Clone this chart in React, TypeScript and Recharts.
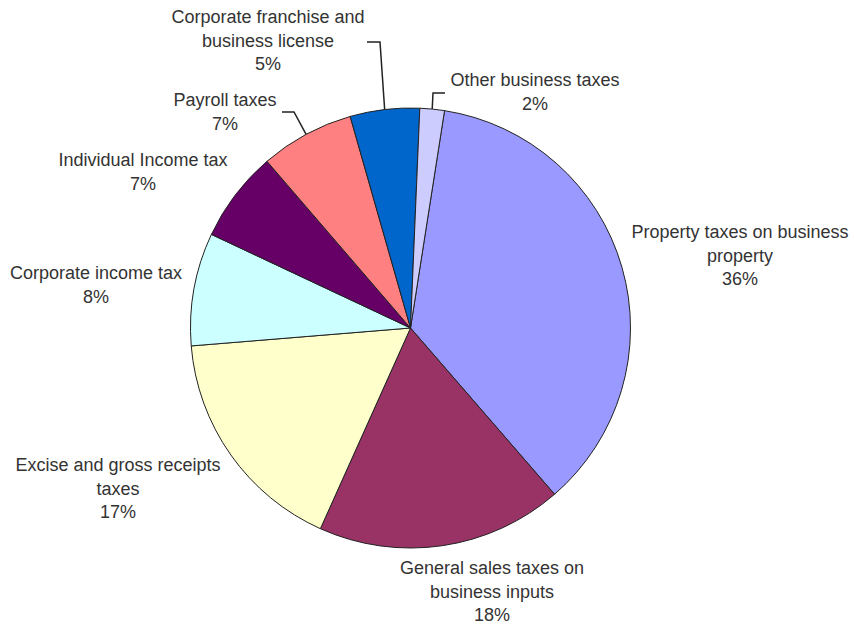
import React from 'react';
import { PieChart, Pie, Cell } from 'recharts';

const categories = [
  'Property taxes on business property',
  'General sales taxes on business inputs',
  'Excise and gross receipts taxes',
  'Corporate income tax',
  'Individual Income tax',
  'Payroll taxes',
  'Corporate franchise and business license',
  'Other business taxes',
];
const shares = [36.2, 18.1, 17.0, 8.3, 6.7, 6.9, 5.1, 1.8];
const labelLines = [
  ['Property taxes on business', 'property'],
  ['General sales taxes on', 'business inputs'],
  ['Excise and gross receipts', 'taxes'],
  ['Corporate income tax'],
  ['Individual Income tax'],
  ['Payroll taxes'],
  ['Corporate franchise and', 'business license'],
  ['Other business taxes'],
];
const colors = ['#9999FF', '#993366', '#FFFFCC', '#CCFFFF', '#660066', '#FF8080', '#0066CC', '#CCCCFF'];

// layout (not data): first-line centre of each label relative to pie centre
const labelOffsets: number[][] = [
  [329.5, -96], [81.5, 240], [-292.5, 137], [-314.5, -55],
  [-267.5, -168], [-185.5, -228], [-142.5, -311], [124.5, -248],
];
// leader line elbow / end offsets relative to pie centre
const leaders: (number[][] | null)[] = [
  null, null, null, null, null,
  [[-116.5, -216], [-128.5, -216]],
  [[-30.5, -286], [-43.5, -286]],
  [[22.5, -235], [34.5, -235]],
];

const data = categories.map((name, i) => ({ name, value: shares[i] }));

const LINE_H = 23.5;
const RAD = Math.PI / 180;

const renderLabel = (props: any) => {
  const { cx, cy, midAngle, outerRadius, index, percent } = props;
  const off = labelOffsets[index];
  const lines = [...labelLines[index], `${Math.round(percent * 100)}%`];
  const lx = cx + off[0];
  const ly = cy + off[1];
  const ld = leaders[index];
  let leader = null;
  if (ld) {
    const ex = cx + outerRadius * Math.cos(-midAngle * RAD);
    const ey = cy + outerRadius * Math.sin(-midAngle * RAD);
    const pts = [[ex, ey], [cx + ld[0][0], cy + ld[0][1]], [cx + ld[1][0], cy + ld[1][1]]]
      .map((p) => p.join(',')).join(' ');
    leader = <polyline points={pts} fill="none" stroke="#222" strokeWidth={1.5} />;
  }
  return (
    <g key={`lab-${index}`}>
      {leader}
      <text
        x={lx}
        y={ly}
        textAnchor="middle"
        fill="#333"
        fontFamily="'Liberation Sans', Arial, sans-serif"
        fontSize={18}
      >
        {lines.map((t, i) => (
          <tspan key={i} x={lx} y={ly + i * LINE_H} dominantBaseline="central">{t}</tspan>
        ))}
      </text>
    </g>
  );
};

export default function App() {
  return (
    <div style={{ position: 'absolute', left: 0, top: 0, background: '#fff' }}>
      <PieChart width={854} height={625} margin={{ top: 0, right: 0, bottom: 0, left: 0 }}>
        <Pie
          data={data}
          dataKey="value"
          nameKey="name"
          cx={410.5}
          cy={328}
          outerRadius={220}
          startAngle={81.1}
          endAngle={-278.9}
          stroke="#222"
          strokeWidth={1}
          label={renderLabel}
          labelLine={false}
          isAnimationActive={false}
        >
          {data.map((d, i) => (
            <Cell key={d.name} fill={colors[i]} />
          ))}
        </Pie>
      </PieChart>
    </div>
  );
}
